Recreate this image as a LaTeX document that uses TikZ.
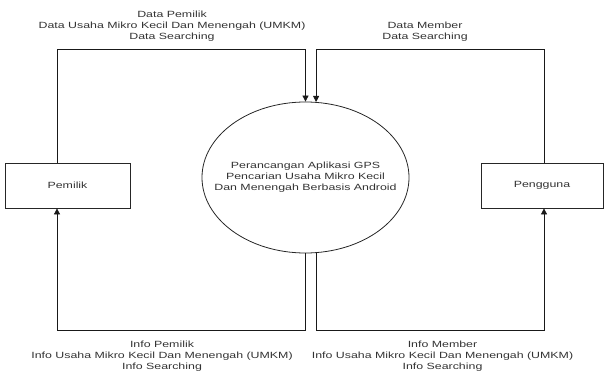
\documentclass[tikz,border=0pt]{standalone}
\usepackage{fontspec}
\newfontfamily\labfont[FakeStretch=1.375]{Liberation Sans}
\usetikzlibrary{shapes.geometric,arrows.meta}
\begin{document}
\begin{tikzpicture}[x=1pt,y=-1pt,
  every node/.style={font=\labfont\fontsize{9}{11}\selectfont, text=black!80, align=center, inner sep=0pt},
  box/.style={draw=black!85, line width=0.8pt, minimum height=45pt},
  proc/.style={ellipse, draw=black!85, line width=0.8pt, minimum width=207pt, minimum height=151pt},
  flow/.style={draw=black!90, line width=0.8pt},
  arr/.style={flow, -{Triangle[length=6pt,width=6pt]}}]
\useasboundingbox (0,0) rectangle (604,374);
\node[box, minimum width=125pt] (pemilik) at (67.5,185.5) {Pemilik};
\node[box, minimum width=122pt] (pengguna) at (542,185.5) {Pengguna};
\node[proc] (proc) at (305.5,177.5) {};
\node (proclab) at (proc.center) {Perancangan Aplikasi GPS\\Pencarian Usaha Mikro Kecil\\Dan Menengah Berbasis Android};
\coordinate (tl) at (57,49);
\coordinate (tr) at (544,49);
\coordinate (bl) at (57,330);
\coordinate (br) at (544,330);
\draw[arr] (pemilik.north -| tl) -- (tl) -| (proc.north);
\draw[arr] (pengguna.north -| tr) -- (tr) -| (proc.82);
\draw[arr] (proc.south) |- (bl) -- (pemilik.south -| bl);
\draw[arr] (proc.-82) |- (br) -- (pengguna.south -| br);
\node (ltop) at (172,26) {Data Pemilik\\Data Usaha Mikro Kecil Dan Menengah (UMKM)\\Data Searching};
\node (rtop) at (425,31.5) {Data Member\\Data Searching};
\node (lbot) at (162,356) {Info Pemilik\\Info Usaha Mikro Kecil Dan Menengah (UMKM)\\Info Searching};
\node (rbot) at (442.5,356) {Info Member\\Info Usaha Mikro Kecil Dan Menengah (UMKM)\\Info Searching};
\end{tikzpicture}
\end{document}
